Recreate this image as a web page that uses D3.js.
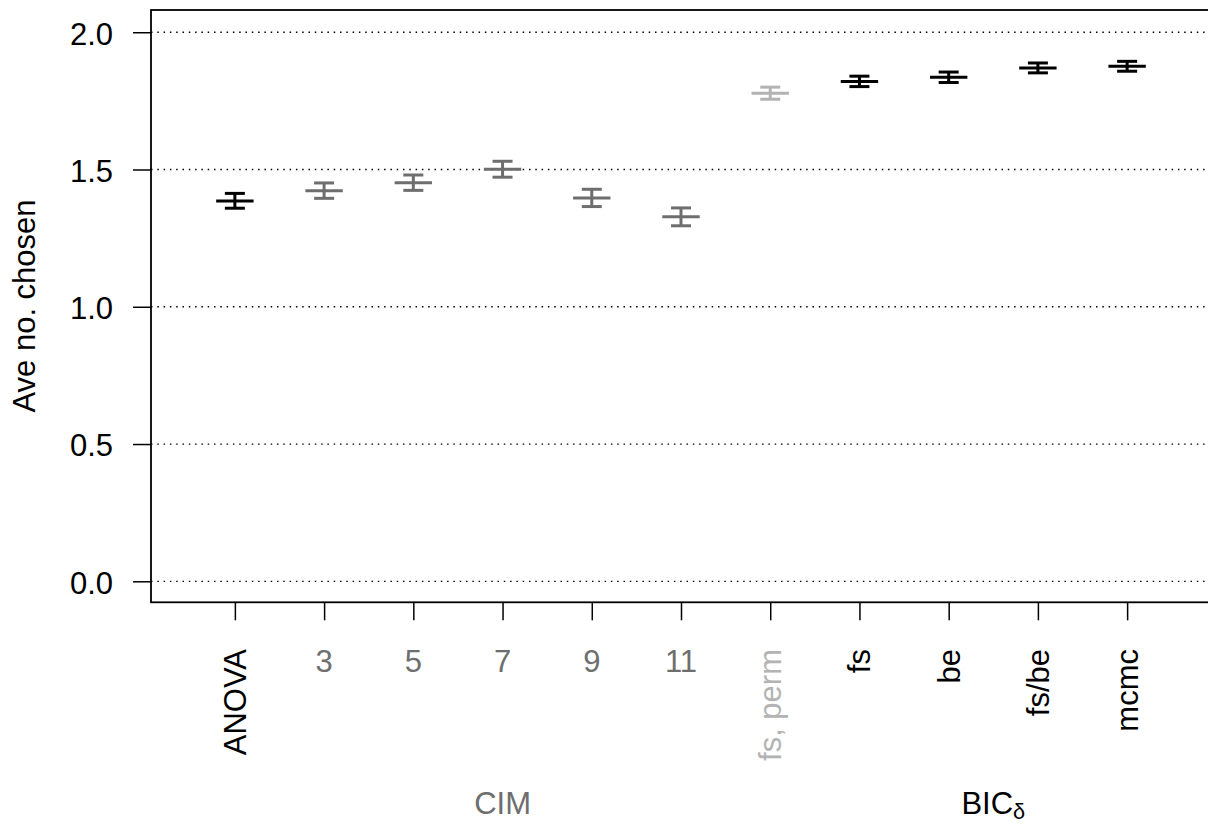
<!DOCTYPE html>
<html>
<head>
<meta charset="utf-8">
<script src="https://cdn.jsdelivr.net/npm/d3@7"></script>
<style>
  html, body { margin: 0; padding: 0; background: #fff; }
  svg { display: block; font-family: "Liberation Sans", Arial, Helvetica, sans-serif; }
</style>
</head>
<body>
<svg id="chart" width="1208" height="825"></svg>
<script>
// Methods compared, in plotting order
const categories = ["ANOVA", "3", "5", "7", "9", "11", "fs, perm", "fs", "be", "fs/be", "mcmc"];
// Method family of each category (controls colour and label orientation)
const families = ["anova", "cim", "cim", "cim", "cim", "cim", "perm", "bic", "bic", "bic", "bic"];
// Average number of loci chosen, with lower / upper error-bar limits
const means = [1.385, 1.423, 1.452, 1.501, 1.396, 1.328, 1.778, 1.821, 1.836, 1.870, 1.876];
const lower = [1.359, 1.395, 1.424, 1.472, 1.365, 1.295, 1.756, 1.802, 1.817, 1.852, 1.858];
const upper = [1.413, 1.451, 1.480, 1.530, 1.428, 1.360, 1.800, 1.840, 1.855, 1.888, 1.894];
// Y axis ticks
const yTicks = [0, 0.5, 1.0, 1.5, 2.0];
// Group captions under the axis: [text, first index, last index, family]
const groupLabels = [["CIM", 1, 5, "cim"], ["BIC", 7, 10, "bic"]];

const familyColor = { anova: "#000000", cim: "#6e6e6e", perm: "#b3b3b3", bic: "#000000" };

const svg = d3.select("#chart");
const FS = 31;

const plot = { left: 151, right: 1211, top: 10, bottom: 602.3 };

const x = d3.scaleLinear().domain([-0.94, 10.94]).range([plot.left, plot.right]);
const y = d3.scaleLinear().domain([-0.0765, 2.081]).range([plot.bottom, plot.top]);

// dotted horizontal reference lines
svg.append("g")
  .selectAll("line")
  .data(yTicks)
  .join("line")
  .attr("x1", plot.left).attr("x2", plot.right)
  .attr("y1", d => y(d)).attr("y2", d => y(d))
  .attr("stroke", "#000")
  .attr("stroke-width", 1.3)
  .attr("stroke-dasharray", "1.5,4.8");

// Y axis
const yAxis = svg.append("g")
  .attr("transform", `translate(${plot.left},0)`)
  .call(d3.axisLeft(y).tickValues(yTicks).tickFormat(d3.format(".1f")).tickSize(18).tickPadding(20));
yAxis.select(".domain").remove();
yAxis.selectAll(".tick line").attr("stroke", "#000").attr("stroke-width", 1.5);
yAxis.selectAll(".tick text")
  .attr("font-size", FS).attr("fill", "#000")
  .attr("font-family", "'Liberation Sans', Arial, sans-serif")
  .attr("dy", "0.38em");

// X axis ticks
const xAxis = svg.append("g")
  .attr("transform", `translate(0,${plot.bottom})`)
  .call(d3.axisBottom(x).tickValues(d3.range(categories.length)).tickFormat("").tickSize(18));
xAxis.select(".domain").remove();
xAxis.selectAll(".tick line").attr("stroke", "#000").attr("stroke-width", 1.5);

// Category labels: numbers upright, names perpendicular to the axis
const labels = svg.append("g");
categories.forEach((c, i) => {
  const fam = families[i];
  const col = familyColor[fam];
  if (fam === "cim") {
    labels.append("text")
      .attr("x", x(i)).attr("y", 672)
      .attr("text-anchor", "middle")
      .attr("font-size", FS).attr("fill", col)
      .text(c);
  } else {
    labels.append("text")
      .attr("transform", `translate(${x(i)},649) rotate(-90)`)
      .attr("text-anchor", "end")
      .attr("dy", "0.35em")
      .attr("font-size", FS).attr("fill", col)
      .text(c);
  }
});

// Group captions
groupLabels.forEach(([t, a, b, fam]) => {
  const cx = (x(a) + x(b)) / 2;
  const txt = svg.append("text")
    .attr("x", cx).attr("y", 814)
    .attr("text-anchor", "middle")
    .attr("font-size", FS).attr("fill", familyColor[fam])
    .text(t);
  if (t === "BIC") {
    txt.append("tspan").attr("font-size", FS * 0.7).attr("dy", 5).text("δ");
  }
});

// Error bars
const bars = svg.append("g")
  .selectAll("g")
  .data(categories.map((c, i) => ({ i, mean: means[i], lo: lower[i], hi: upper[i], col: familyColor[families[i]] })))
  .join("g")
  .attr("stroke", d => d.col)
  .attr("stroke-width", 3);

bars.append("line")
  .attr("x1", d => x(d.i)).attr("x2", d => x(d.i))
  .attr("y1", d => y(d.lo)).attr("y2", d => y(d.hi));
bars.append("line")
  .attr("x1", d => x(d.i) - 10).attr("x2", d => x(d.i) + 10)
  .attr("y1", d => y(d.lo)).attr("y2", d => y(d.lo));
bars.append("line")
  .attr("x1", d => x(d.i) - 10).attr("x2", d => x(d.i) + 10)
  .attr("y1", d => y(d.hi)).attr("y2", d => y(d.hi));
bars.append("line")
  .attr("x1", d => x(d.i) - 18.7).attr("x2", d => x(d.i) + 18.7)
  .attr("y1", d => y(d.mean)).attr("y2", d => y(d.mean));

// Plot box
svg.append("rect")
  .attr("x", plot.left).attr("y", plot.top)
  .attr("width", plot.right - plot.left).attr("height", plot.bottom - plot.top)
  .attr("fill", "none").attr("stroke", "#000").attr("stroke-width", 1.8);

// Y axis title
svg.append("text")
  .attr("transform", `translate(35,306) rotate(-90)`)
  .attr("text-anchor", "middle")
  .attr("font-size", FS).attr("fill", "#000")
  .text("Ave no. chosen");
</script>
</body>
</html>
